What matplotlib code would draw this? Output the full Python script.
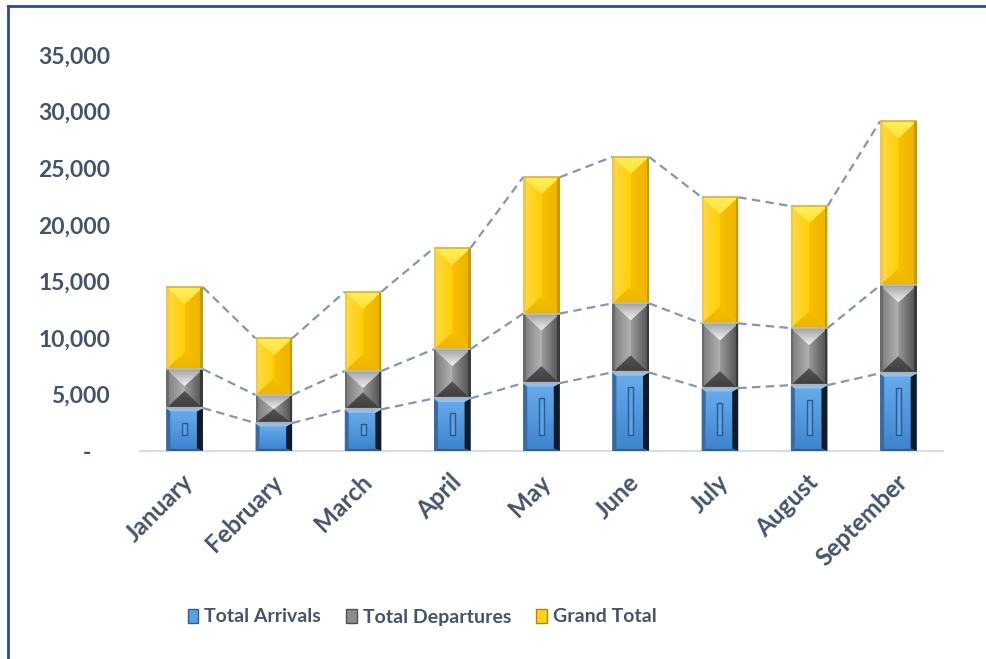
import numpy as np
import matplotlib
matplotlib.use("Agg")
import matplotlib.pyplot as plt
from matplotlib.patches import Polygon, Rectangle, Patch
from matplotlib.lines import Line2D
from matplotlib.colors import LinearSegmentedColormap
from matplotlib.transforms import ScaledTranslation
from matplotlib import font_manager

# ---------------- data ----------------
months = ["January", "February", "March", "April", "May", "June",
          "July", "August", "September"]
arrivals = [3800, 2470, 3680, 4650, 6000, 6950, 5560, 5820, 6870]
departures = [3440, 2480, 3390, 4350, 6150, 6100, 5720, 5040, 7770]
grand_total = [7240, 5000, 7000, 8950, 12050, 12950, 11150, 10780, 14500]
series_names = ["Total Arrivals", "Total Departures", "Grand Total"]
yticks = [0, 5000, 10000, 15000, 20000, 25000, 30000, 35000]

# ---------------- style ----------------
names = {f.name for f in font_manager.fontManager.ttflist}
FONT = "Lato" if "Lato" in names else "DejaVu Sans"
TXT = "#44546A"
LINEC = "#8497B0"

W_PX, H_PX = 986, 659
fig = plt.figure(figsize=(W_PX / 100, H_PX / 100), dpi=100)
ax_l, ax_r, ax_t, ax_b = 140, 943, 55, 451
ax = fig.add_axes([ax_l / W_PX, 1 - ax_b / H_PX, (ax_r - ax_l) / W_PX, (ax_b - ax_t) / H_PX])
XLIM = (-0.5, 8.5)
YLIM = (0, 35000)
ax.set_xlim(*XLIM)
ax.set_ylim(*YLIM)
dxp = (XLIM[1] - XLIM[0]) / (ax_r - ax_l)   # data units per pixel in x
dyp = (YLIM[1] - YLIM[0]) / (ax_b - ax_t)   # data units per pixel in y

x = np.arange(len(months))
bw = 0.41
arr = np.array(arrivals, float)
dep = np.array(departures, float)
gt = np.array(grand_total, float)

b1 = ax.bar(x, arr, bw, color="#5A9FE0", zorder=2, linewidth=0)
b2 = ax.bar(x, dep, bw, bottom=arr, color="#A6A6A6", zorder=2, linewidth=0)
b3 = ax.bar(x, gt, bw, bottom=arr + dep, color="#FFD21A", zorder=2, linewidth=0)


def gpoly(verts, c0, c1, horizontal=True, z=3):
    poly = Polygon(verts, closed=True, facecolor="none", edgecolor="none")
    ax.add_patch(poly)
    xs = [v[0] for v in verts]
    ys = [v[1] for v in verts]
    n = 64
    cmap = LinearSegmentedColormap.from_list("g", [c0, c1])
    a = np.linspace(0, 1, n).reshape(1, n) if horizontal else np.linspace(0, 1, n).reshape(n, 1)
    im = ax.imshow(a, cmap=cmap, extent=[min(xs), max(xs) + 1e-9, min(ys), max(ys) + 1e-9],
                   origin="lower", aspect="auto", interpolation="bilinear", zorder=z)
    im.set_clip_path(poly)


def fpoly(verts, c, z=3):
    ax.add_patch(Polygon(verts, closed=True, facecolor=c, edgecolor="none", zorder=z))


def pyramid(rect, pal):
    x0, y0, w, h = rect.get_x(), rect.get_y(), rect.get_width(), rect.get_height()
    x1, y1, xc = x0 + w, y0 + h, x0 + w / 2
    bv = min(17 * dyp, h / 2)
    left = [(x0, y0), (xc, y0 + bv), (xc, y1 - bv), (x0, y1)]
    right = [(x1, y0), (xc, y0 + bv), (xc, y1 - bv), (x1, y1)]
    top = [(x0, y1), (x1, y1), (xc, y1 - bv)]
    bot = [(x0, y0), (x1, y0), (xc, y0 + bv)]
    gpoly(left, pal["l0"], pal["l1"], True)
    gpoly(right, pal["r0"], pal["r1"], True)
    gpoly(top, pal["t0"], pal["t1"], False)
    gpoly(bot, pal["b0"], pal["b1"], False)
    e = 2.5 * dxp
    fpoly([(x0, y0), (x0 + e, y0), (x0 + e, y1), (x0, y1)], pal["le"], 4)
    fpoly([(x1 - e, y0), (x1, y0), (x1, y1), (x1 - e, y1)], pal["re"], 4)
    ax.plot([x0, x1], [y1, y1], color=pal["te"], lw=1.2, zorder=5, solid_capstyle="butt")


def frame_bar(rect):
    x0, y0, w, h = rect.get_x(), rect.get_y(), rect.get_width(), rect.get_height()
    x1, y1, xc = x0 + w, y0 + h, x0 + w / 2
    l, r = 4 * dxp, 6 * dxp
    t, b = 3.5 * dyp, 2.5 * dyp
    gpoly([(x0 + l, y0 + b), (x1 - r, y0 + b), (x1 - r, y1 - t), (x0 + l, y1 - t)],
          "#3F86D0", "#66AAEA", False)
    fpoly([(x0, y0), (x0 + l, y0 + b), (x0 + l, y1 - t), (x0, y1)], "#3A6BA0")
    fpoly([(x1, y0), (x1 - r, y0 + b), (x1 - r, y1 - t), (x1, y1)], "#0E1B2A")
    fpoly([(x0, y1), (x1, y1), (x1 - r, y1 - t), (x0 + l, y1 - t)], "#93C0EA")
    fpoly([(x0, y0), (x1, y0), (x1 - r, y0 + b), (x0 + l, y0 + b)], "#2D5F94")
    ax.plot([x0, x1], [y1, y1], color="#A9B4C0", lw=1.6, zorder=5, solid_capstyle="butt")
    if h > 34 * dyp:
        sw = 5 * dxp
        ax.add_patch(Rectangle((xc - sw / 2, y0 + 16 * dyp), sw, h - 31 * dyp,
                               facecolor="#5DA2E6", edgecolor="#2B5A8C", lw=1.0, zorder=4))


yellow = dict(l0="#FFD84A", l1="#FFD000", r0="#F7C200", r1="#EDB000",
              t0="#FFE23A", t1="#FFEE5A", b0="#EDB400", b1="#F5C200",
              le="#F2C84A", re="#C99A00", te="#D8B040")
gray = dict(l0="#7A7A7A", l1="#B4B4B4", r0="#9A9A9A", r1="#4A4A4A",
            t0="#F2F2F2", t1="#9C9C9C", b0="#3E3E3E", b1="#555555",
            le="#6A6A6A", re="#3A3A3A", te="#B8BEC4")

for rect in b1.patches:
    frame_bar(rect)
for rect in b2.patches:
    pyramid(rect, gray)
for rect in b3.patches:
    pyramid(rect, yellow)

# series lines connecting bar corners
for tops in (arr, arr + dep, arr + dep + gt):
    for i in range(len(x) - 1):
        ax.plot([x[i] + bw / 2, x[i + 1] - bw / 2], [tops[i], tops[i + 1]],
                color=LINEC, lw=1.6, ls=(0, (3.8, 2.4)), zorder=1)

ax.set_xlim(*XLIM)
ax.set_ylim(*YLIM)

# axes styling
for s in ("top", "right", "left"):
    ax.spines[s].set_visible(False)
ax.spines["bottom"].set_color("#D9DEE6")
ax.spines["bottom"].set_linewidth(1.6)
ax.spines["bottom"].set_zorder(0)
ax.tick_params(length=0)
ax.set_yticks(yticks)
ax.set_yticklabels(["-" if v == 0 else f"{v:,}" for v in yticks],
                   fontsize=16.5, fontweight="bold", color=TXT, family=FONT)
ax.tick_params(axis="y", pad=21.5)
zero_lbl = ax.get_yticklabels()[0]
zero_lbl.set_transform(zero_lbl.get_transform() + ScaledTranslation(-14 / 72, 0, fig.dpi_scale_trans))
ax.set_xticks(x)
ax.set_xticklabels(months, rotation=45, ha="right", va="top", rotation_mode="anchor",
                   fontsize=17.5, fontweight="bold", color=TXT, family=FONT)
ax.tick_params(axis="x", pad=14)
for lbl in ax.get_xticklabels():
    lbl.set_transform(lbl.get_transform() + ScaledTranslation(-3 / 100, 0, fig.dpi_scale_trans))

# legend
handles = [Patch(facecolor="#5A9FE0", edgecolor="#2D5F94", lw=1.0),
           Patch(facecolor="#8C8C8C", edgecolor="#505050", lw=1.0),
           Patch(facecolor="#FFD21A", edgecolor="#B38600", lw=1.0)]
leg = fig.legend(handles, series_names, loc="center left",
                 bbox_to_anchor=(170 / W_PX, 1 - 617 / H_PX), ncol=3, frameon=False,
                 handlelength=0.55, handleheight=0.75, handletextpad=0.3, columnspacing=1.3,
                 prop=dict(family=FONT, size=14, weight="bold"))
for t in leg.get_texts():
    t.set_color(TXT)

# outer border (left and top)
bc = "#2E4B9B"
fig.add_artist(Line2D([8 / W_PX, 8 / W_PX], [0, 1 - 6 / H_PX], color=bc, lw=2.0,
                      transform=fig.transFigure))
fig.add_artist(Line2D([8 / W_PX, 1], [1 - 6 / H_PX, 1 - 6 / H_PX], color=bc, lw=2.0,
                      transform=fig.transFigure))

fig.savefig("out.png", dpi=100)
